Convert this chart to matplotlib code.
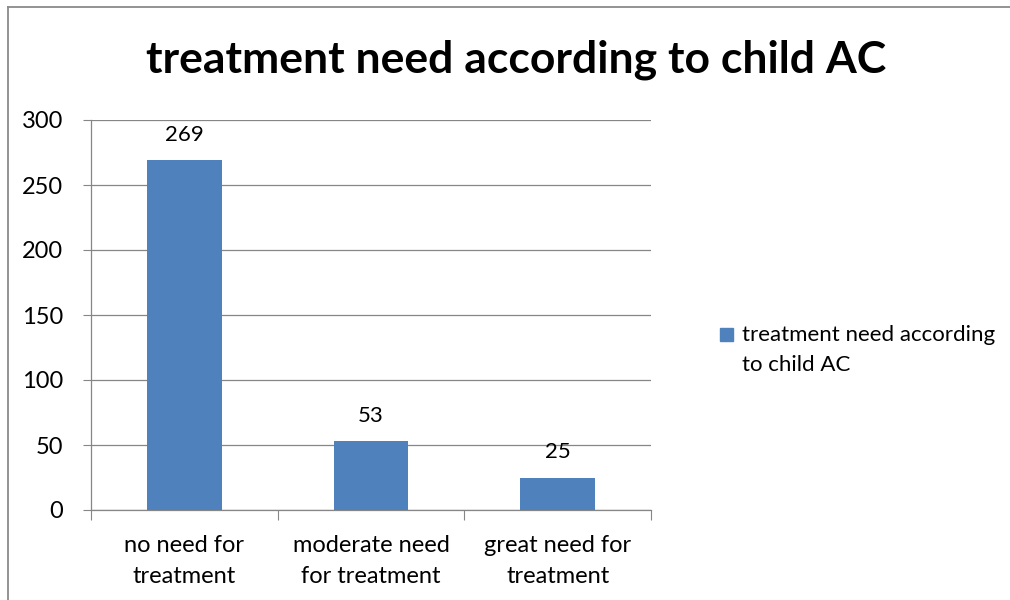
import matplotlib.pyplot as plt
from matplotlib.lines import Line2D

categories = ['no need for\ntreatment', 'moderate need\nfor treatment', 'great need for\ntreatment']
counts = [269, 53, 25]
series_name = 'treatment need according to child AC'
yticks = [0, 50, 100, 150, 200, 250, 300]

plt.rcParams['font.family'] = ['Lato', 'DejaVu Sans']
bar_color = '#4F81BD'
grid_color = '#868686'

fig = plt.figure(figsize=(10.1, 6.0), dpi=100)
ax = fig.add_axes([0.0901, 0.15, 0.5545, 0.65])

x = range(len(counts))
bars = ax.bar(x, counts, width=0.4, color=bar_color, zorder=3)
for xi, v in zip(x, counts):
    ax.annotate(str(v), (xi, v), xytext=(0, 11), textcoords='offset points',
                ha='center', va='bottom', fontsize=16)

ax.set_xlim(-0.5, len(counts) - 0.5)
ax.set_ylim(0, 300)
ax.set_yticks(yticks)
ax.set_yticklabels([str(t) for t in yticks], fontsize=17)
ax.yaxis.grid(True, color=grid_color, linewidth=0.9, zorder=0)

# category labels sit between the boundary ticks
ax.set_xticks([i - 0.5 for i in range(len(counts) + 1)])
ax.set_xticklabels([])
ax.set_xticks(list(x), minor=True)
ax.set_xticklabels(categories, minor=True, fontsize=17, linespacing=1.6)
ax.tick_params(axis='x', which='minor', length=0, pad=18)
ax.tick_params(axis='x', which='major', length=7, color=grid_color, direction='out')
ax.tick_params(axis='y', length=6, color=grid_color, pad=14)

for side in ['top', 'right']:
    ax.spines[side].set_visible(False)
for side in ['left', 'bottom']:
    ax.spines[side].set_color(grid_color)
    ax.spines[side].set_linewidth(0.9)

fig.text(0.511, 0.9, series_name, ha='center', va='center',
         fontsize=32, fontweight='bold')

# legend drawn by hand: square key plus wrapped label
fig.patches.append(plt.Rectangle((720 / 1010, 1 - 341 / 600), 13 / 1010, 13 / 600,
                                 transform=fig.transFigure, color=bar_color))
fig.text(742 / 1010, 1 - 350 / 600, 'treatment need according\nto child AC',
         ha='left', va='center', fontsize=16, linespacing=1.65)

# outer chart border, only top and left edges fall inside the image
border = dict(transform=fig.transFigure, color='#8a8a8a', linewidth=1.3)
fig.lines.append(Line2D([8 / 1010, 1.0], [1 - 7 / 600] * 2, **border))
fig.lines.append(Line2D([8 / 1010] * 2, [0.0, 1 - 7 / 600], **border))

fig.savefig('out.png', dpi=100)
